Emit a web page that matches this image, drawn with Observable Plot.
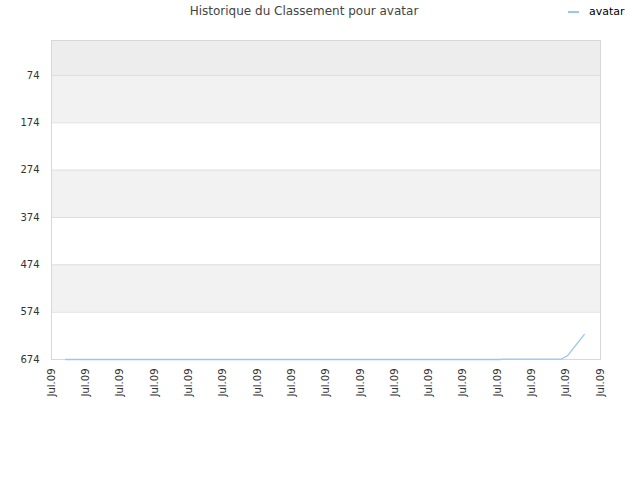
<!DOCTYPE html>
<html>
<head>
<meta charset="utf-8">
<script src="https://cdn.jsdelivr.net/npm/d3@7"></script>
<script src="https://cdn.jsdelivr.net/npm/@observablehq/plot@0.6"></script>
<style>
  html, body { margin: 0; padding: 0; background: #fff; }
  body { width: 640px; height: 480px; position: relative; font-family: "DejaVu Sans", sans-serif; overflow: hidden; }
  #title { position: absolute; top: 4px; left: 0; width: 608px; text-align: center; font-size: 12px; color: #444; }
  #legend { position: absolute; top: 5px; left: 568px; font-size: 11px; color: #000; display: flex; align-items: center; }
  #legend .sw { width: 11px; height: 2px; background: #99c5f5; margin-right: 10px; }
  #chart { position: absolute; top: 0; left: 0; }
</style>
</head>
<body>
<div id="title">Historique du Classement pour avatar</div>
<div id="legend"><span class="sw"></span><span>avatar</span></div>
<div id="chart"></div>
<script>
// Data
const seriesName = "avatar";
const dayPos = [0.41, 13.10, 13.14, 14.86, 15.04, 15.53];
const rank   = [674, 674, 673, 673, 666, 621];
const xTicks = [0,1,2,3,4,5,6,7,8,9,10,11,12,13,14,15,16];
const xTickLabels = ["Jul.09","Jul.09","Jul.09","Jul.09","Jul.09","Jul.09","Jul.09","Jul.09","Jul.09","Jul.09","Jul.09","Jul.09","Jul.09","Jul.09","Jul.09","Jul.09","Jul.09"];
const yTicks = [74, 174, 274, 374, 474, 574, 674];
const yMin = 0;

const data = dayPos.map((x, i) => ({x, rank: rank[i], series: seriesName}));
const topBand = [{lo: yMin, hi: yTicks[0]}];
const grayBands = [[74,174],[274,374],[474,574]].map(([lo, hi]) => ({lo, hi}));

const chart = Plot.plot({
  width: 640,
  height: 480,
  marginTop: 40,
  marginLeft: 51,
  marginRight: 40,
  marginBottom: 121,
  style: { fontFamily: "DejaVu Sans, sans-serif", fontSize: "10px", color: "#333", background: "transparent" },
  x: { domain: [xTicks[0], xTicks[xTicks.length - 1]] },
  y: { domain: [yMin, yTicks[yTicks.length - 1]], reverse: true },
  marks: [
    Plot.rect(topBand, { y1: "lo", y2: "hi", fill: "#ededed" }),
    Plot.rect(grayBands, { y1: "lo", y2: "hi", fill: "#f2f2f2" }),
    Plot.ruleY(yTicks, { stroke: "#dedede" }),
    Plot.frame({ stroke: "#d8d8d8" }),
    Plot.line(data, { x: "x", y: "rank", stroke: "#99c5f5", strokeWidth: 1.3 }),
    Plot.axisY({ ticks: yTicks, tickSize: 0, tickPadding: 12, label: null, fill: "#333" }),
    Plot.axisX({ ticks: xTicks, tickFormat: (d, i) => xTickLabels[i], tickRotate: -90, tickSize: 0, tickPadding: 9, label: null, fill: "#333" })
  ]
});
document.getElementById("chart").appendChild(chart);
</script>
</body>
</html>
